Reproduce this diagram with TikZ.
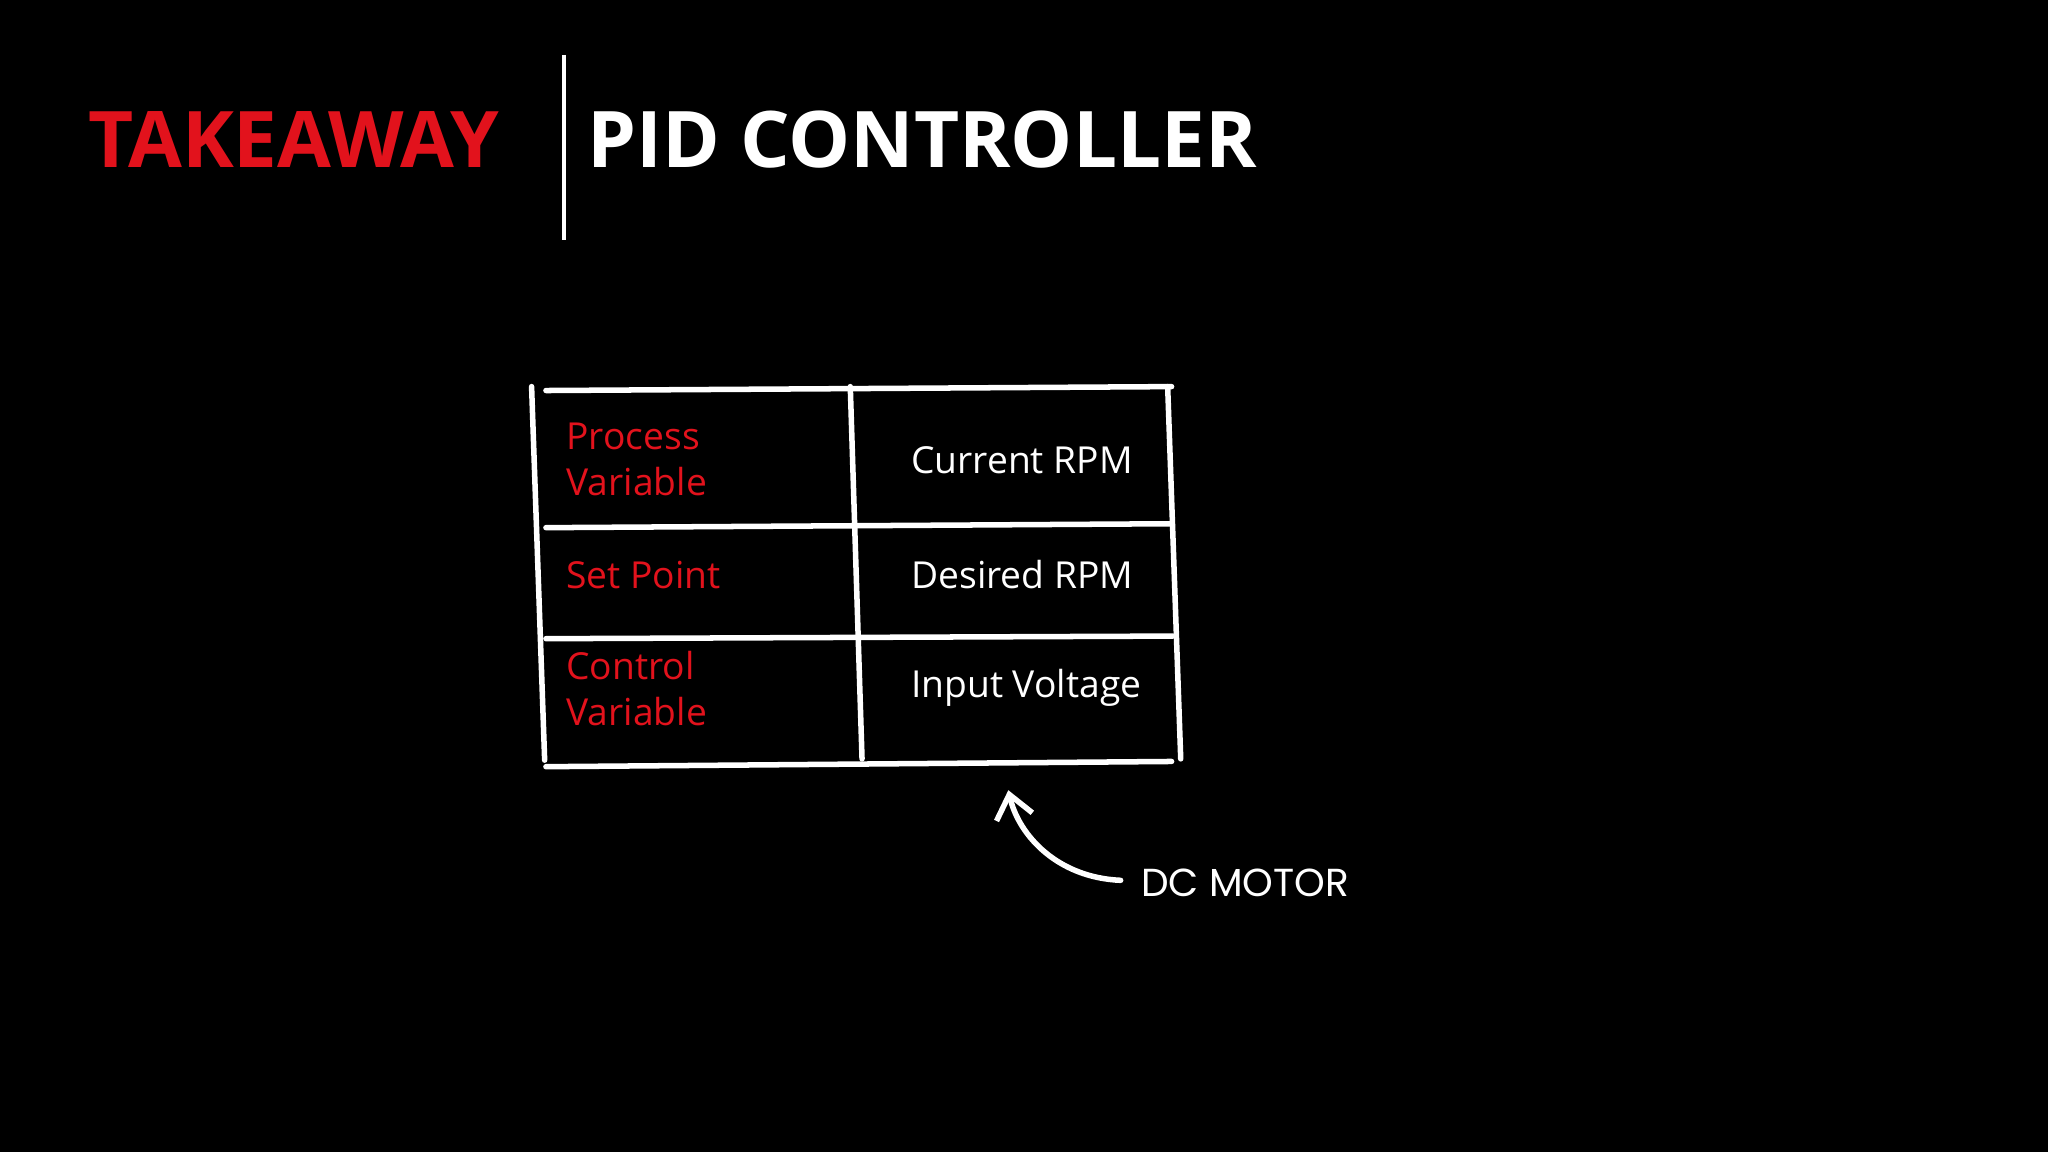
\documentclass[tikz,border=0pt]{standalone}
\usepackage{fontspec}
\setmainfont{Open Sans}
\newfontfamily\comic{Poppins}
\usetikzlibrary{arrows.meta}
\definecolor{tred}{RGB}{226,18,28}
\begin{document}
\begin{tikzpicture}[x=0.01cm,y=-0.01cm,
  ln/.style={white,line width=1.2pt,line cap=round},
  lab/.style={anchor=west,text=tred,font=\fontsize{8.1}{10}\selectfont,align=left,inner sep=0},
  val/.style={anchor=west,text=white,font=\fontsize{8.1}{10}\selectfont,inner sep=0}]
\fill[black] (0,0) rectangle (1568,882);
\useasboundingbox (0,0) rectangle (1568,882);
\node[anchor=base west,inner sep=0,text=tred,font=\fontsize{17}{20}\selectfont\bfseries] (tk) at (67,128) {TAKEAWAY};
\node[anchor=base west,inner sep=0,text=white,font=\fontsize{17}{20}\selectfont\bfseries] (pid) at (449,128) {PID CONTROLLER};
\coordinate (s1) at (432,42); \coordinate (s2) at (432,184);
\draw[white,line width=0.8pt] (s1)--(s2);
% table
\coordinate (a1) at (418,299); \coordinate (a2) at (897,296);
\draw[ln] (a1)--(a2);
\draw[ln] (407,296)--(417,582);
\draw[ln] (651,296)--(660,581);
\draw[ln] (894,296)--(904,581);
\draw[ln] (418,404)--(896,401);
\draw[ln] (418,489)--(898,487);
\draw[ln] (418,587)--(897,583);
\node[lab] (pv) at (433,352) {Process\\Variable};
\node[lab] (sp) at (433,440) {Set Point};
\node[lab] (cv) at (433,527) {Control\\Variable};
\node[val] (c1) at (697,352) {Current RPM};
\node[val] (c2) at (697,440) {Desired RPM};
\node[val] (c3) at (697,527) {Input Voltage};
\node[anchor=west,inner sep=0,text=white,font=\comic\fontsize{8.5}{10}\selectfont] (dc) at (873,676) {DC MOTOR};
\coordinate (tip) at (772,605);
\draw[ln,-{Straight Barb[length=5pt,width=8pt]}] (858,674) .. controls (810,672) and (780,640) .. (tip);
\end{tikzpicture}
\end{document}
